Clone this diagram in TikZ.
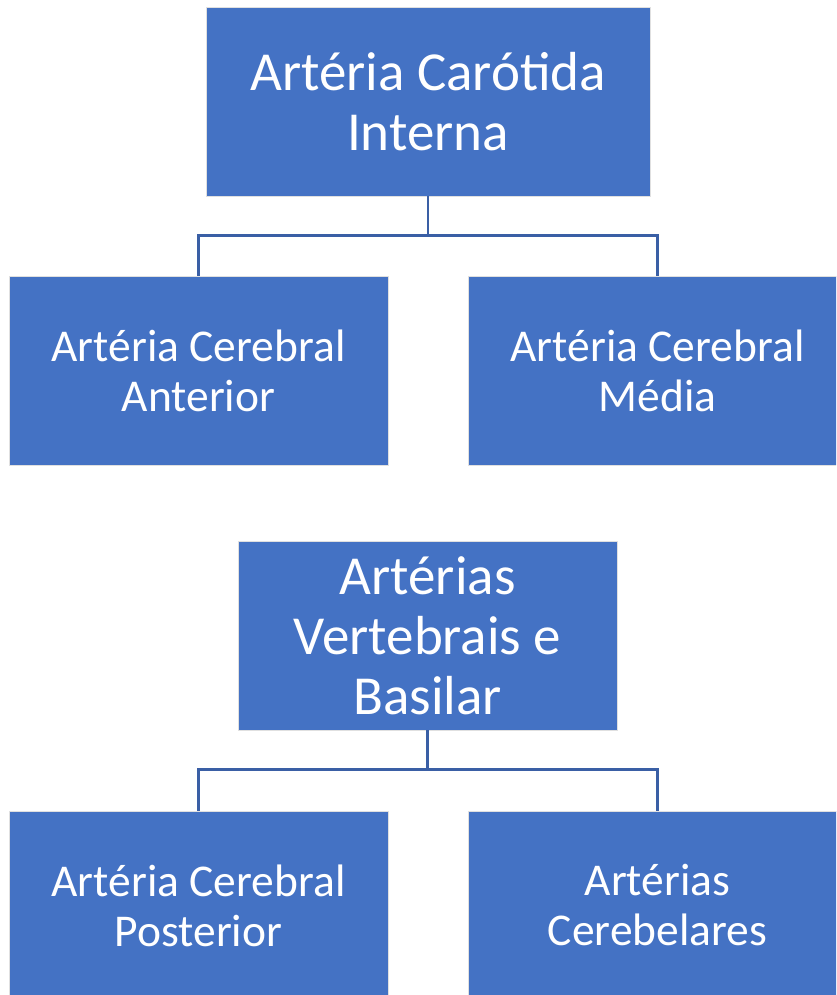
\documentclass[tikz,border=0pt]{standalone}
\usepackage{fontspec}
\setmainfont{Carlito}
\definecolor{caixa}{HTML}{4472C4}
\definecolor{linha}{HTML}{3A5FA5}
\tikzset{
  caixa/.style={fill=caixa, draw=black!12, line width=0.8pt, text=white, align=center,
    minimum width=379pt, minimum height=189pt, inner sep=0pt},
  grande/.style={font=\fontsize{55}{60}\selectfont},
  pequena/.style={font=\fontsize{45.5}{50}\selectfont},
  ligacao/.style={linha, line width=2.2pt}
}
\begin{document}
\begin{tikzpicture}[x=1pt, y=1pt]
    \def\desce{39}
    \useasboundingbox (0,0) rectangle (836,-995);
    \begin{scope}
    \clip (0,0) rectangle (836,-995);

    % grupo de cima
    \node[caixa, grande, minimum width=444pt] (carotida) at (428,-101.5) {Artéria Carótida\\Interna};
    \node[caixa, pequena] (anterior) at (198.5,-370.5) {Artéria Cerebral\\Anterior};
    \node[caixa, pequena] (media) at (657.5,-370.5) {Artéria Cerebral\\Média};
    \draw[ligacao] (carotida.south) -- ++(0,-\desce) coordinate (nocima) -| (anterior.north);
    \draw[ligacao] (nocima) -| (media.north);

    % grupo de baixo
    \node[caixa, grande] (vertebrais) at (427.5,-635.5) {Artérias\\Vertebrais e\\Basilar};
    \node[caixa, pequena] (posterior) at (198.5,-905.5) {Artéria Cerebral\\Posterior};
    \node[caixa, pequena] (cerebelares) at (657.5,-905.5) {Artérias\\Cerebelares};
    \draw[ligacao] (vertebrais.south) -- ++(0,-\desce) coordinate (nobaixo) -| (posterior.north);
    \draw[ligacao] (nobaixo) -| (cerebelares.north);
    \end{scope}
\end{tikzpicture}
\end{document}
